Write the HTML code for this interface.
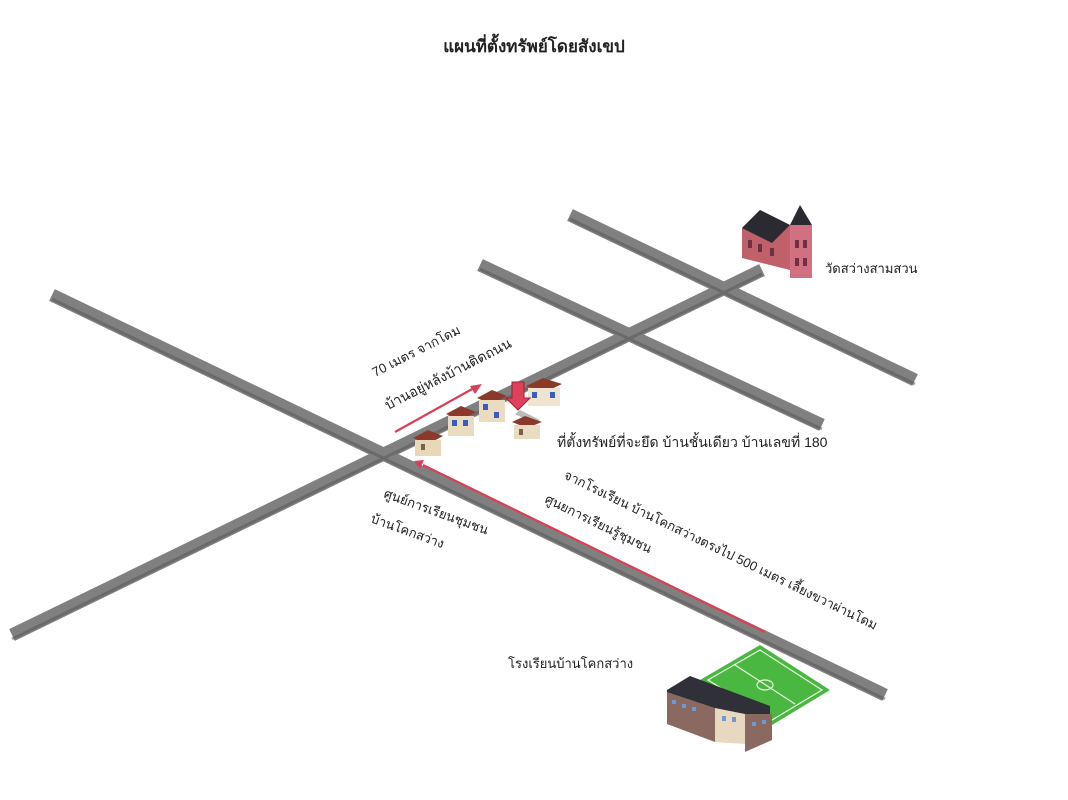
<!DOCTYPE html>
<html><head><meta charset="utf-8"><style>
html,body{margin:0;padding:0;background:#fff;}
svg{display:block;}
text{font-family:"Liberation Sans","Noto Sans CJK SC",sans-serif;fill:#222;}
</style></head><body>
<svg width="1068" height="800" viewBox="0 0 1068 800" xmlns="http://www.w3.org/2000/svg">
<rect width="1068" height="800" fill="#fff"/>
<text x="534" y="52" font-size="17" font-weight="bold" text-anchor="middle">แผนที่ตั้งทรัพย์โดยสังเขป</text>
<g stroke="#808080" stroke-width="13" stroke-linecap="butt">
<line x1="52" y1="295" x2="885" y2="695"/>
<line x1="12" y1="635" x2="762" y2="270"/>
<line x1="480" y1="265" x2="822" y2="425"/>
<line x1="570" y1="215" x2="915" y2="380"/>
</g>
<g stroke="#555" stroke-width="3" opacity="0.5">
<line x1="52" y1="299" x2="885" y2="699"/>
<line x1="12" y1="639" x2="762" y2="274"/>
<line x1="480" y1="269" x2="822" y2="429"/>
<line x1="570" y1="219" x2="915" y2="384"/>
</g>
<g stroke="#d8405a" stroke-width="2.2" fill="#d8405a">
<line x1="395" y1="432" x2="474" y2="388"/>
<polygon points="482,384 470,386 475,394" stroke="none"/>
<line x1="765" y1="632" x2="423" y2="465"/>
<polygon points="414,461 424,460 420,469" stroke="none"/>
</g>
<g>
<g transform="translate(413,430)"><polygon points="0,8 15,0 30,6 15,14" fill="#8b3a2a"/><rect x="2" y="10" width="26" height="16" fill="#e8d8b8"/><rect x="8" y="14" width="4" height="6" fill="#7a6050"/></g>
<g transform="translate(446,406)"><polygon points="0,8 15,0 30,6 15,14" fill="#8b3a2a"/><rect x="2" y="10" width="26" height="20" fill="#eadcc0"/><rect x="6" y="14" width="5" height="6" fill="#3a5bc0"/><rect x="17" y="14" width="5" height="6" fill="#3a5bc0"/></g>
<g transform="translate(477,390)"><polygon points="0,8 15,0 30,6 15,14" fill="#8b3a2a"/><rect x="2" y="10" width="26" height="22" fill="#eadcc0"/><rect x="6" y="14" width="5" height="6" fill="#3a5bc0"/><rect x="17" y="22" width="5" height="6" fill="#3a5bc0"/></g>
<g transform="translate(526,378)"><polygon points="0,8 17,0 36,6 19,14" fill="#8b3a2a"/><rect x="2" y="10" width="32" height="18" fill="#eee4d0"/><rect x="6" y="14" width="5" height="6" fill="#3a5bc0"/><rect x="24" y="14" width="5" height="6" fill="#3a5bc0"/></g>
<polygon points="520,410 540,420 535,424 515,414" fill="#bbb"/>
<g transform="translate(512,416)"><polygon points="0,6 13,0 30,6 15,12" fill="#8b3a2a"/><rect x="2" y="9" width="26" height="14" fill="#eadcc0"/><rect x="7" y="13" width="4" height="6" fill="#7a6050"/></g>
<polygon points="512,382 524,382 524,398 530,398 518,410 506,398 512,398" fill="#e0405a" stroke="#a02030" stroke-width="1"/>
</g>
<g>
<polygon points="742,228 760,210 790,225 790,270 742,258" fill="#c0606a"/>
<polygon points="742,228 760,210 790,225 772,243" fill="#2a2a30"/>
<rect x="790" y="225" width="22" height="53" fill="#d07080"/>
<polygon points="790,225 800,205 812,225" fill="#2a2a30"/>
<g fill="#703040"><rect x="748" y="240" width="4" height="8"/><rect x="758" y="244" width="4" height="8"/><rect x="770" y="248" width="4" height="8"/><rect x="795" y="240" width="4" height="8"/><rect x="803" y="240" width="4" height="8"/><rect x="795" y="258" width="4" height="8"/><rect x="803" y="258" width="4" height="8"/></g>
</g>
<g>
<polygon points="700,680 760,645 830,690 772,725" fill="#4ab840"/>
<g stroke="#e8f8e0" stroke-width="1.2" fill="none"><polygon points="708,680 760,650 822,690 772,720"/><line x1="735" y1="665" x2="795" y2="704"/><ellipse cx="765" cy="685" rx="8" ry="5"/></g>
<polygon points="667,690 690,676 770,706 770,715 745,728 667,700" fill="#303038"/>
<polygon points="667,692 715,708 715,742 667,724" fill="#8a6a60"/>
<polygon points="715,708 745,714 745,744 715,742" fill="#e8d8c0"/>
<polygon points="745,714 772,714 772,740 745,752" fill="#8a6a60"/>
<g fill="#6a9ad8"><rect x="672" y="700" width="4" height="4"/><rect x="682" y="704" width="4" height="4"/><rect x="692" y="707" width="4" height="4"/><rect x="722" y="716" width="4" height="5"/><rect x="732" y="717" width="4" height="5"/><rect x="752" y="722" width="4" height="4"/><rect x="762" y="720" width="4" height="4"/></g>
</g>
<text x="825" y="273" font-size="13">วัดสว่างสามสวน</text>
<text x="508" y="668" font-size="13">โรงเรียนบ้านโคกสว่าง</text>
<text x="557" y="447" font-size="14">ที่ตั้งทรัพย์ที่จะยึด บ้านชั้นเดียว บ้านเลขที่ 180</text>
<text font-size="13" transform="translate(375,377) rotate(-27)">70 เมตร จากโดม</text>
<text font-size="14" transform="translate(388,410) rotate(-27)">บ้านอยู่หลังบ้านติดถนน</text>
<text font-size="13" transform="translate(563,478) rotate(26)">จากโรงเรียน บ้านโคกสว่างตรงไป 500 เมตร เลี้ยงขวาผ่านโดม</text>
<text font-size="13" transform="translate(544,502) rotate(26)">ศูนยการเรียนรู้ชุมชน</text>
<text font-size="13" transform="translate(383,497) rotate(20)">ศูนย์การเรียนชุมชน</text>
<text font-size="13" transform="translate(370,522) rotate(20)">บ้านโคกสว่าง</text>
</svg>
</body></html>
